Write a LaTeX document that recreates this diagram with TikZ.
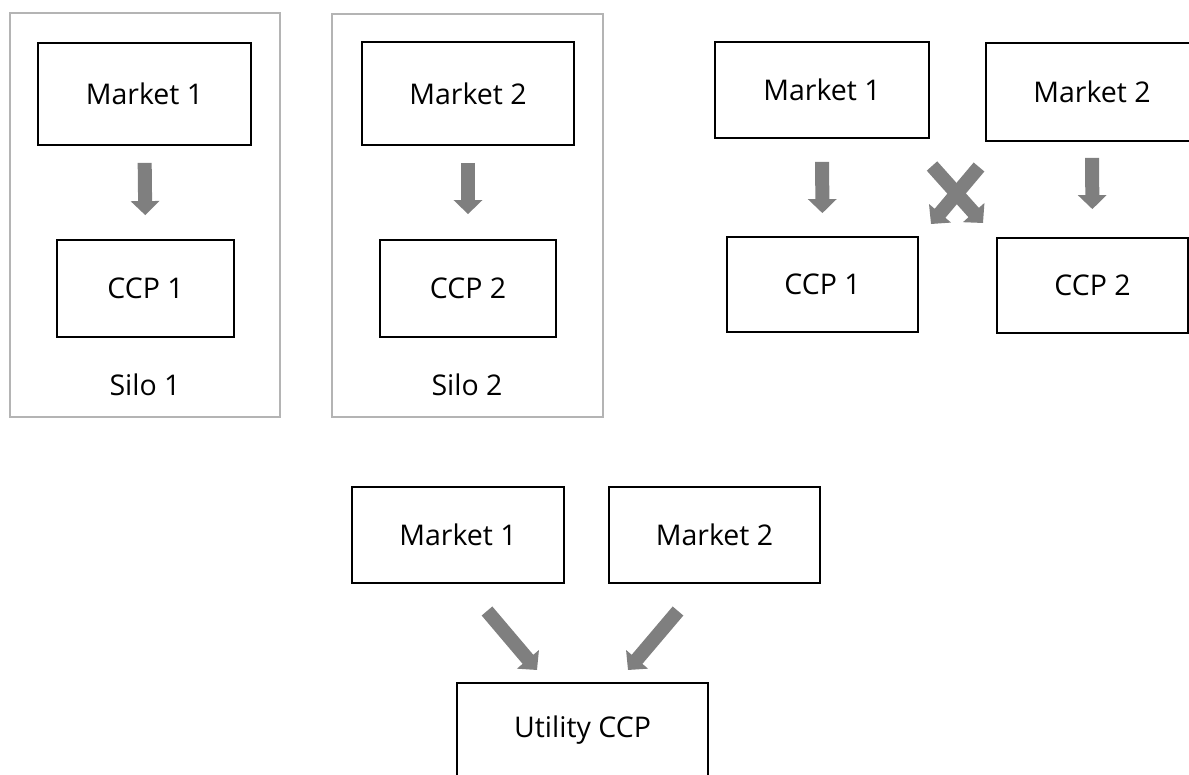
\documentclass[tikz,border=0pt]{standalone}
\usepackage{fontspec}
\setmainfont{Open Sans}
\usetikzlibrary{arrows.meta}
\definecolor{arrowgray}{HTML}{7F7F7F}
\definecolor{silogray}{HTML}{B4B4B4}
\tikzset{
  boxnode/.style={draw=black, line width=1.8pt, inner sep=0pt, font=\fontsize{28.5}{33}\selectfont},
  silonode/.style={draw=silogray, line width=1.3pt, inner sep=0pt},
  labelnode/.style={inner sep=0pt, font=\fontsize{28.5}{33}\selectfont},
  blockarrow/.style={draw=arrowgray, line width=14pt, -{Triangle[width=28pt,length=14pt]}, arrowgray},
}
\begin{document}
\begin{tikzpicture}[x=1pt,y=-1pt]
\useasboundingbox (0,0) rectangle (1189,774);
\clip (0,0) rectangle (1189,774);
% Silo 1
\node[silonode, minimum width=270pt, minimum height=404pt] (silo1) at (145,215) {};
\node[boxnode, minimum width=213pt, minimum height=102pt] (m1L) at (144.5,94) {Market 1};
\node[boxnode, minimum width=177pt, minimum height=97pt] (c1L) at (145.5,288.5) {CCP 1};
\node[labelnode] (s1) at (145,385) {Silo 1};
\draw[blockarrow, shorten <=17pt, shorten >=24pt] (m1L.south) -- (c1L.north);
% Silo 2
\node[silonode, minimum width=271pt, minimum height=403pt] (silo2) at (467.5,215.5) {};
\node[boxnode, minimum width=212pt, minimum height=103pt] (m2S) at (468,93.5) {Market 2};
\node[boxnode, minimum width=176pt, minimum height=97pt] (c2S) at (468,288.5) {CCP 2};
\node[labelnode] (s2) at (467,385) {Silo 2};
\draw[blockarrow, shorten <=17pt, shorten >=25pt] (m2S.south) -- (c2S.north);
% Right group
\node[boxnode, minimum width=214pt, minimum height=96pt] (m1R) at (822,90) {Market 1};
\node[boxnode, minimum width=212pt, minimum height=98pt] (m2R) at (1092,92) {Market 2};
\node[boxnode, minimum width=191pt, minimum height=95pt] (c1R) at (822.5,284.5) {CCP 1};
\node[boxnode, minimum width=191pt, minimum height=95pt] (c2R) at (1092.5,285.5) {CCP 2};
\draw[blockarrow, shorten <=23pt, shorten >=23pt] (m1R.south) -- (c1R.north);
\draw[blockarrow, shorten <=16pt, shorten >=28pt] (m2R.south) -- (c2R.north);
\coordinate (xa1) at (932,166);
\coordinate (xa2) at (983,223);
\coordinate (xb1) at (979,167);
\coordinate (xb2) at (931,224);
\draw[blockarrow] (xa1) -- (xa2);
\draw[blockarrow] (xb1) -- (xb2);
% Bottom group
\node[boxnode, minimum width=212pt, minimum height=96pt] (m1B) at (458,535) {Market 1};
\node[boxnode, minimum width=211pt, minimum height=96pt] (m2B) at (714.5,535) {Market 2};
\node[boxnode, minimum width=251pt, minimum height=94pt] (u) at (582.5,730) {Utility CCP};
\coordinate (ba1) at (487,611);
\coordinate (ba2) at (537,670);
\coordinate (bb1) at (678,611);
\coordinate (bb2) at (628,670);
\draw[blockarrow] (ba1) -- (ba2);
\draw[blockarrow] (bb1) -- (bb2);
\end{tikzpicture}
\end{document}
